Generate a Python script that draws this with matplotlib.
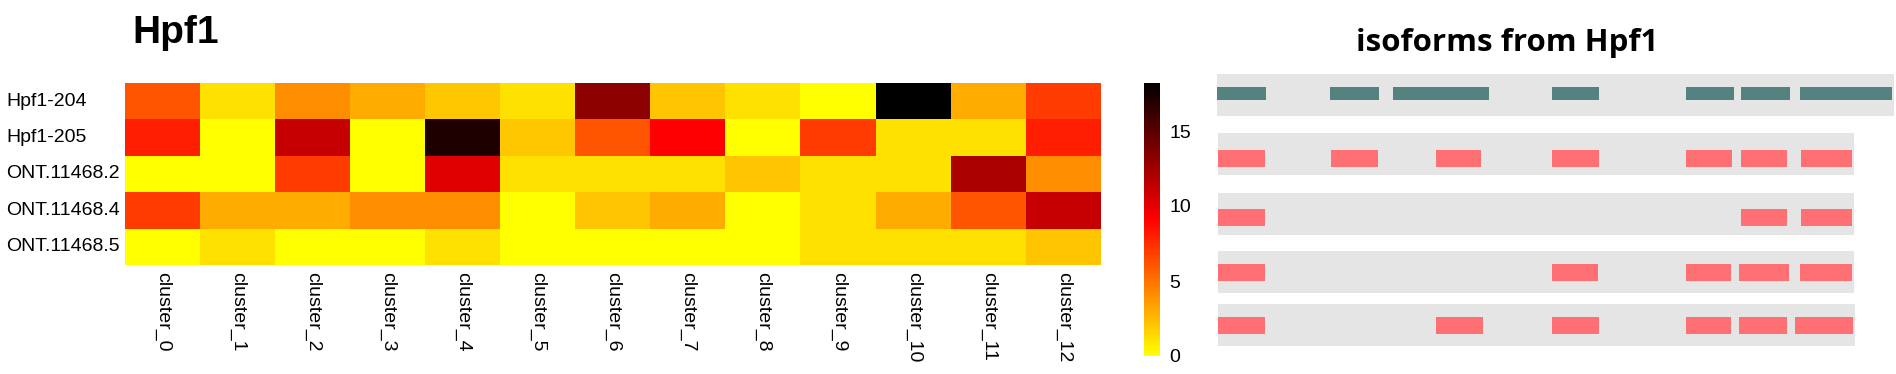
import numpy as np
import matplotlib
matplotlib.use("Agg")
import matplotlib.pyplot as plt
from matplotlib.colors import LinearSegmentedColormap
from matplotlib.transforms import blended_transform_factory

## Dados
isoformas = ["Hpf1-204", "Hpf1-205", "ONT.11468.2", "ONT.11468.4", "ONT.11468.5"]
clusters = ["cluster_%d" % i for i in range(13)]

# expressao por cluster
hpf1_204 = [6.1, 1.1, 4.1, 3.0, 2.0, 1.1, 13.2, 2.1, 1.1, 0.0, 18.2, 3.0, 7.0]
hpf1_205 = [8.0, 0.0, 11.1, 0.0, 17.1, 2.0, 6.1, 9.1, 0.0, 7.0, 1.1, 1.1, 8.0]
ont_2 = [0.0, 0.0, 7.0, 0.0, 10.2, 1.1, 1.1, 1.1, 2.1, 1.1, 1.1, 12.1, 4.1]
ont_4 = [7.0, 3.0, 3.0, 4.1, 4.1, 0.0, 2.1, 3.0, 0.0, 1.1, 3.0, 6.1, 11.1]
ont_5 = [0.0, 1.1, 0.0, 0.0, 1.1, 0.0, 0.0, 0.0, 0.0, 1.1, 1.1, 1.1, 2.1]
vmax = 18.2

# exons (inicio, fim) de cada isoforma, coordenadas relativas
exons_204 = [(0, 49), (113, 162), (176, 272), (335, 382), (469, 517), (524, 573), (583, 675)]
exons_205 = [(1, 48), (114, 161), (219, 264), (335, 382), (469, 515), (524, 570), (584, 635)]
exons_ont2 = [(1, 48), (524, 570), (584, 635)]
exons_ont4 = [(1, 48), (335, 381), (469, 514), (522, 572), (583, 635)]
exons_ont5 = [(1, 48), (219, 266), (335, 382), (469, 514), (522, 570), (578, 636)]

M = np.array([hpf1_204, hpf1_205, ont_2, ont_4, ont_5])
todos_exons = [exons_204, exons_205, exons_ont2, exons_ont4, exons_ont5]

plt.rcParams["font.family"] = ["Liberation Sans", "DejaVu Sans"]
W, H = 1896, 374
fig = plt.figure(figsize=(W / 100, H / 100), dpi=100)

def px(x0, y0, x1, y1):
    return [x0 / W, 1 - y1 / H, (x1 - x0) / W, (y1 - y0) / H]

cmap = LinearSegmentedColormap.from_list("ylrdbk", ["#FFFF00", "#FF0000", "#000000"])

## Heatmap
ax = fig.add_axes(px(125, 83, 1101, 265))
im = ax.imshow(M, cmap=cmap, vmin=0, vmax=vmax, aspect="auto", interpolation="nearest")
for s in ax.spines.values():
    s.set_visible(False)
ax.set_yticks([])
ax.set_xticks(range(len(clusters)))
ax.set_xticklabels(clusters, rotation=270, ha="center", va="top", fontsize=14)
ax.tick_params(axis="x", length=0, pad=5)
tr = blended_transform_factory(fig.transFigure, ax.transData)
for i, nome in enumerate(isoformas):
    ax.text(6 / W, i, nome, transform=tr, ha="left", va="center", fontsize=14)

fig.text(132 / W, 1 - 43 / H, "Hpf1", fontsize=28, fontweight="bold", ha="left", va="baseline")

## Colorbar
cax = fig.add_axes(px(1144, 83, 1160, 356))
cb = fig.colorbar(im, cax=cax, ticks=[0, 5, 10, 15])
cb.outline.set_visible(False)
cax.tick_params(length=0, pad=7, labelsize=14)

## Isoformas
ax2 = fig.add_axes(px(1217, 60, 1896, 360))
ax2.set_xlim(0, 1896 - 1217)
ax2.set_ylim(360, 60)
ax2.axis("off")
banda_y = [(74, 116), (133, 175), (193, 235), (251, 293), (304, 346)]
exon_y = [(87, 100), (150, 167), (209, 226), (264, 281), (317, 334)]
cores = ["#538280", "#FF7074", "#FF7074", "#FF7074", "#FF7074"]
for exs, (b0, b1), (e0, e1), cor in zip(todos_exons, banda_y, exon_y, cores):
    ini = min(e[0] for e in exs)
    fim = max(e[1] for e in exs) + 2
    ax2.add_patch(plt.Rectangle((ini, b0), fim - ini, b1 - b0, color="#E5E5E5", lw=0))
    for a, b in exs:
        ax2.add_patch(plt.Rectangle((a, e0), b - a, e1 - e0, color=cor, lw=0))

fig.text(1507 / W, 1 - 51 / H, "isoforms from Hpf1", fontsize=22.5, fontweight="bold",
         ha="center", va="baseline", family=["Open Sans", "DejaVu Sans"])

fig.savefig("out.png", dpi=100)
